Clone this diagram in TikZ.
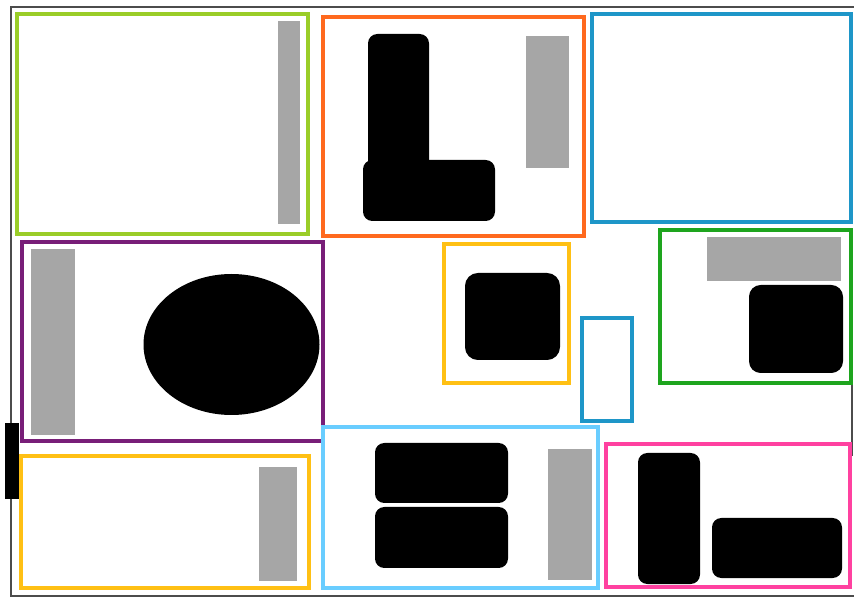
\documentclass[tikz,border=0pt]{standalone}
\usepackage{xcolor}
\usepackage{tikz}
\definecolor{limeroom}{RGB}{154,205,40}
\definecolor{orangeroom}{RGB}{255,105,30}
\definecolor{blueroom}{RGB}{30,150,200}
\definecolor{purpleroom}{RGB}{120,30,120}
\definecolor{amberroom}{RGB}{255,192,20}
\definecolor{greenroom}{RGB}{30,165,30}
\definecolor{skyroom}{RGB}{105,205,255}
\definecolor{pinkroom}{RGB}{255,65,160}
\definecolor{shelfgray}{RGB}{166,166,166}
\tikzset{
  room/.style={draw, line width=3pt},
  shelf/.style={fill=shelfgray},
  piece/.style={fill=black, rounded corners=8pt},
  outline/.style={draw=black!70, line width=1.2pt},
}

\begin{document}
\begin{tikzpicture}[x=0.03cm, y=-0.03cm]
  \useasboundingbox (0,0) rectangle (854,597);
  % outer walls
  \draw[outline] (858,7) -- (11,7) -- (11,596) -- (858,596);
  \draw[outline] (852,380) -- (852,456);
  \fill (5,423) rectangle (19,499);

  % top row
  \draw[room, draw=limeroom] (17,14) rectangle (308,234);
  \fill[shelf] (278,21) rectangle (300,224);

  \draw[room, draw=orangeroom] (323,17) rectangle (584,236);
  \fill[piece] (368,34) rectangle (429,170);
  \fill[piece] (363,160) rectangle (495,221);
  \fill[shelf] (526,36) rectangle (569,168);

  \draw[room, draw=blueroom] (592,14) rectangle (851,222);

  % middle row
  \draw[room, draw=purpleroom] (22,242) rectangle (323,441);
  \fill[shelf] (31,249) rectangle (75,435);
  \fill (231.5,344.5) ellipse [x radius=88, y radius=70.5];

  \draw[room, draw=amberroom] (444,244) rectangle (569,383);
  \fill[piece, rounded corners=11pt] (465,273) rectangle (560,360);

  \draw[room, draw=blueroom] (582,318) rectangle (632,421);

  \draw[room, draw=greenroom] (660,230) rectangle (851,383);
  \fill[shelf] (707,237) rectangle (841,281);
  \fill[piece, rounded corners=10pt] (749,285) rectangle (843,373);

  % bottom row
  \draw[room, draw=amberroom] (21,456) rectangle (309,588);
  \fill[shelf] (259,467) rectangle (297,581);

  \draw[room, draw=skyroom] (323,427) rectangle (598,588);
  \fill[piece] (375,443) rectangle (508,503);
  \fill[piece] (375,507) rectangle (508,568);
  \fill[shelf] (548,449) rectangle (592,580);

  \draw[room, draw=pinkroom] (606,444) rectangle (850,587);
  \fill[piece] (638,453) rectangle (700,584);
  \fill[piece] (712,518) rectangle (842,578);
\end{tikzpicture}
\end{document}
